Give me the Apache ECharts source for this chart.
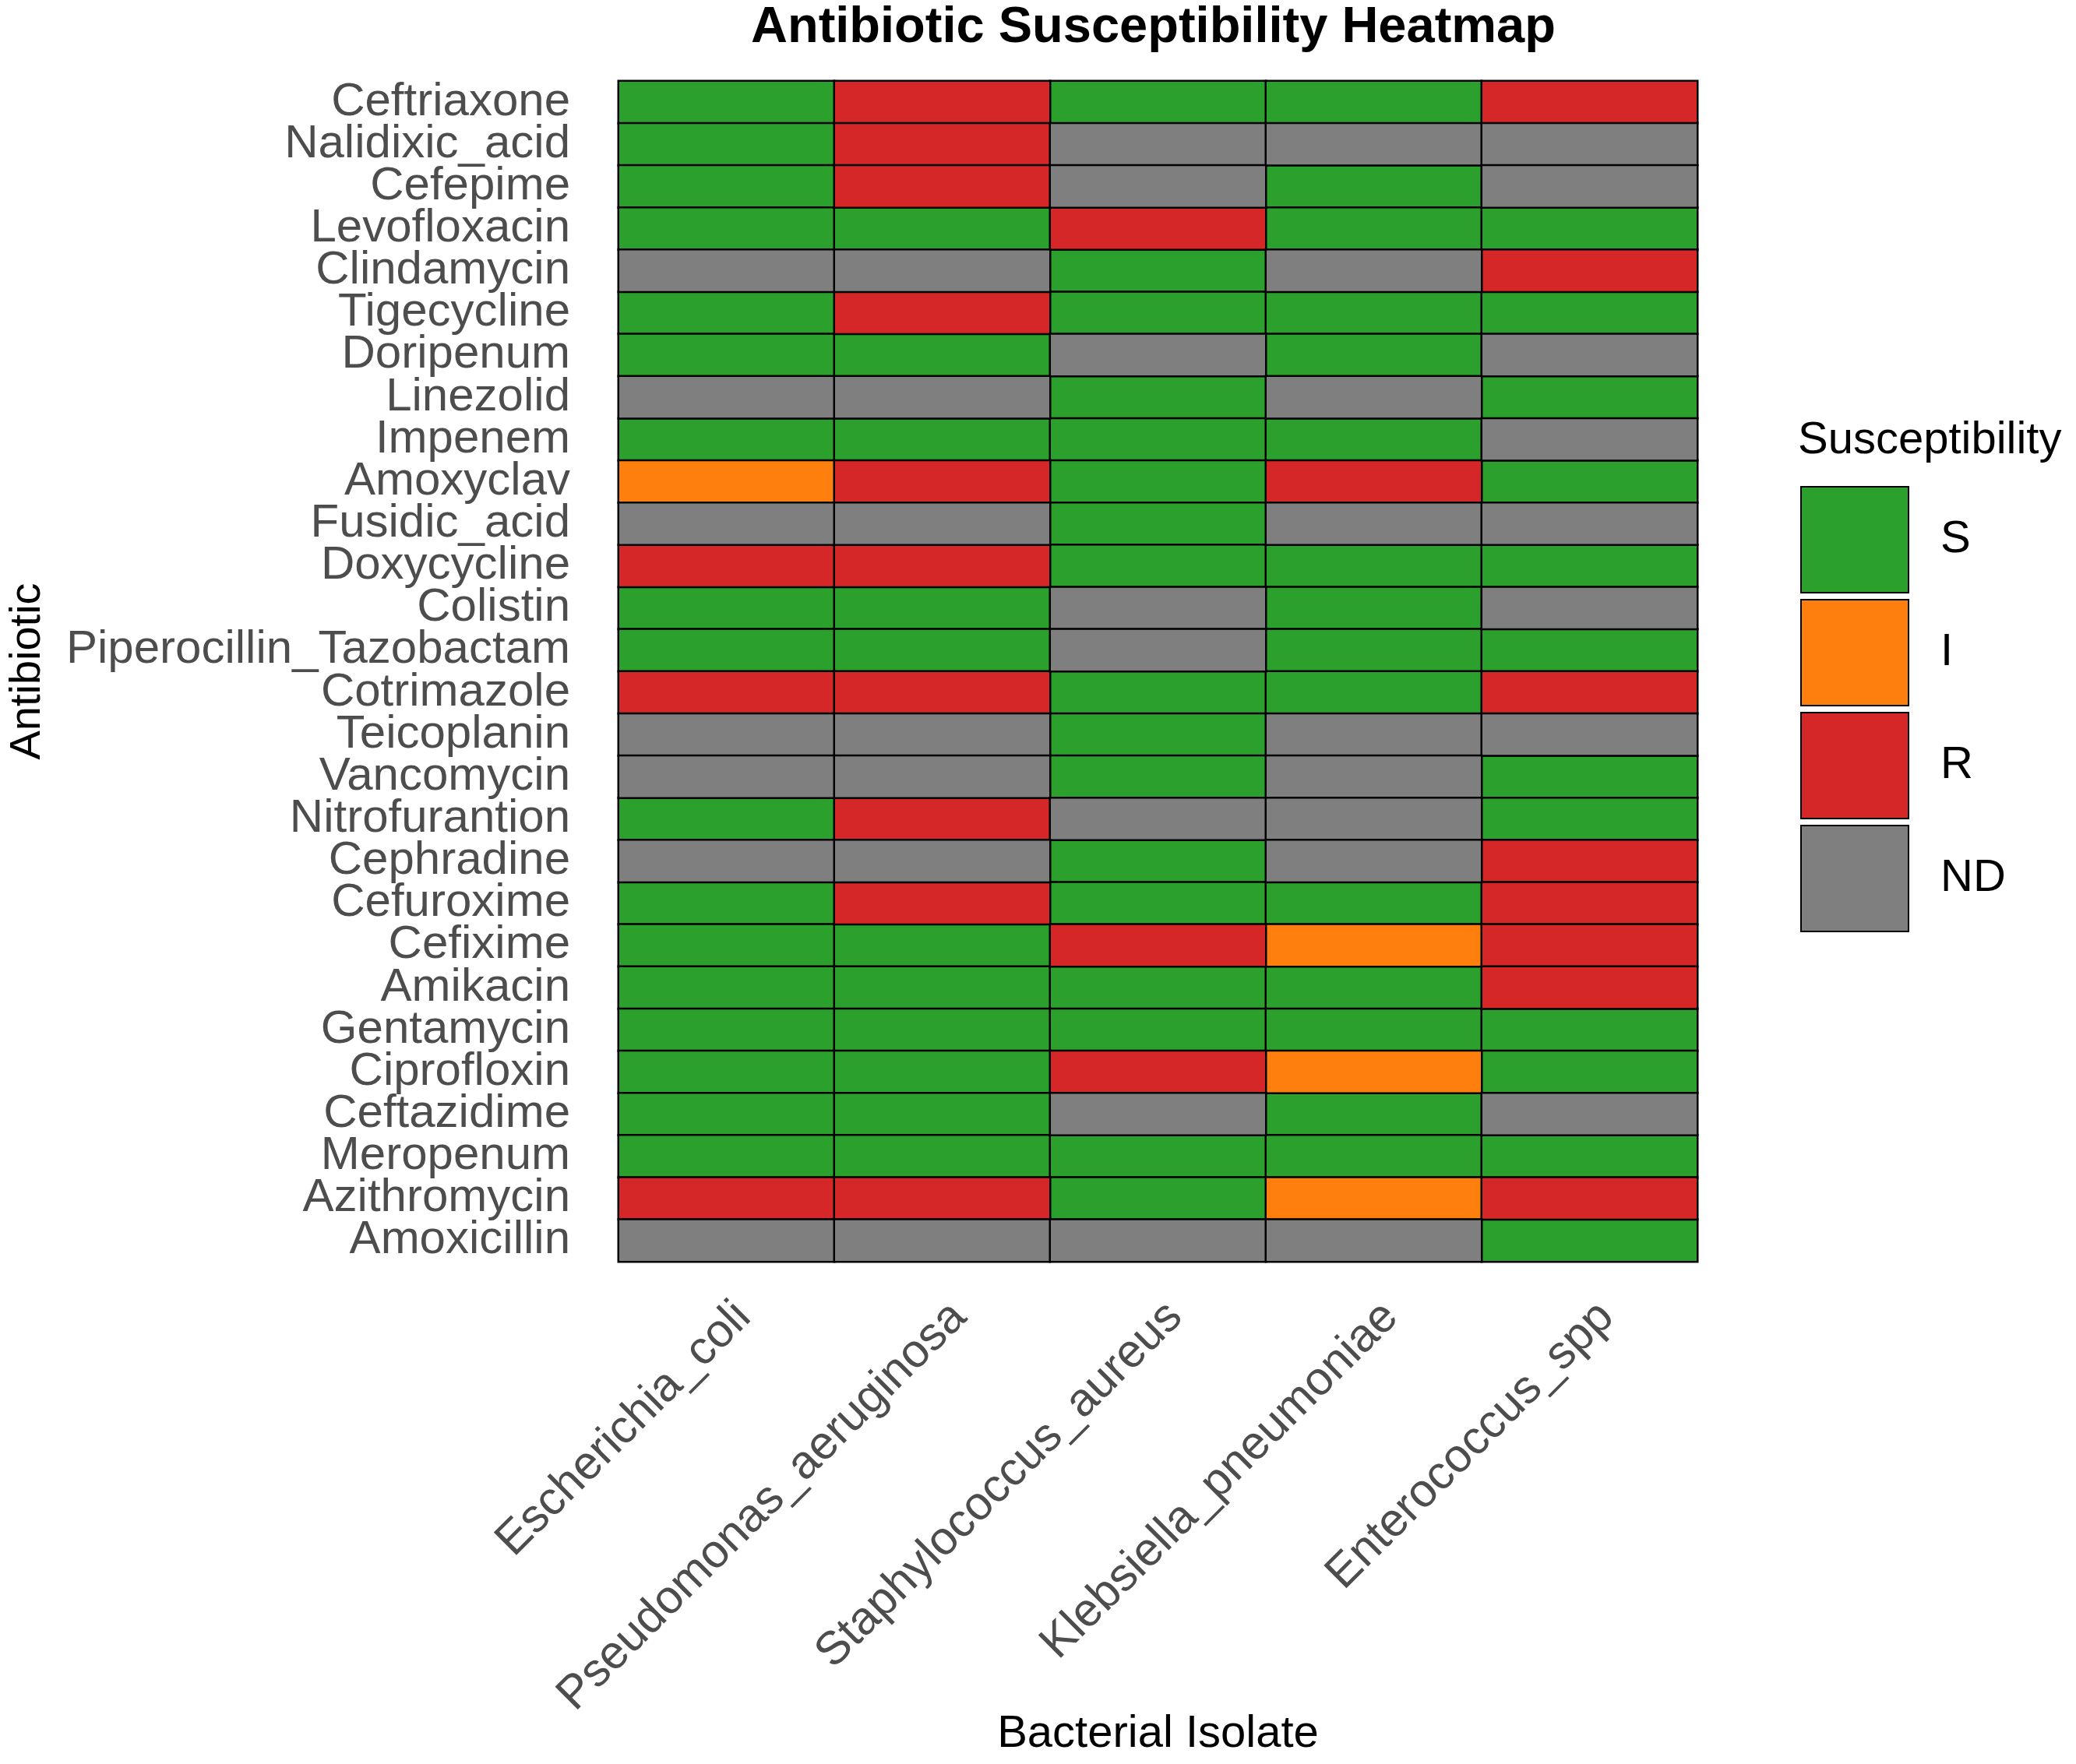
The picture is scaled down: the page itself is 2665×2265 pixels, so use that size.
<!DOCTYPE html>
<html>
<head>
<meta charset="utf-8">
<title>Antibiotic Susceptibility Heatmap</title>
<script src="https://cdn.jsdelivr.net/npm/echarts@6/dist/echarts.min.js"></script>
<style>
	html, body { margin: 0; padding: 0; background: #fff; }
	#main { width: 2665px; height: 2265px; }
</style>
</head>
<body>
<div id="main"></div>
<script>
// bacterial isolates (x axis)
var isolates = ['Escherichia_coli', 'Pseudomonas_aeruginosa', 'Staphylococcus_aureus', 'Klebsiella_pneumoniae', 'Enterococcus_spp'];

// antibiotics, top to bottom
var antibiotics = ['Ceftriaxone', 'Nalidixic_acid', 'Cefepime', 'Levofloxacin', 'Clindamycin', 'Tigecycline',
	'Doripenum', 'Linezolid', 'Impenem', 'Amoxyclav', 'Fusidic_acid', 'Doxycycline', 'Colistin',
	'Piperocillin_Tazobactam', 'Cotrimazole', 'Teicoplanin', 'Vancomycin', 'Nitrofurantion', 'Cephradine',
	'Cefuroxime', 'Cefixime', 'Amikacin', 'Gentamycin', 'Ciprofloxin', 'Ceftazidime', 'Meropenum',
	'Azithromycin', 'Amoxicillin'];

// result per antibiotic, one entry per isolate
var results = [
	['S', 'R', 'S', 'S', 'R'],
	['S', 'R', 'ND', 'ND', 'ND'],
	['S', 'R', 'ND', 'S', 'ND'],
	['S', 'S', 'R', 'S', 'S'],
	['ND', 'ND', 'S', 'ND', 'R'],
	['S', 'R', 'S', 'S', 'S'],
	['S', 'S', 'ND', 'S', 'ND'],
	['ND', 'ND', 'S', 'ND', 'S'],
	['S', 'S', 'S', 'S', 'ND'],
	['I', 'R', 'S', 'R', 'S'],
	['ND', 'ND', 'S', 'ND', 'ND'],
	['R', 'R', 'S', 'S', 'S'],
	['S', 'S', 'ND', 'S', 'ND'],
	['S', 'S', 'ND', 'S', 'S'],
	['R', 'R', 'S', 'S', 'R'],
	['ND', 'ND', 'S', 'ND', 'ND'],
	['ND', 'ND', 'S', 'ND', 'S'],
	['S', 'R', 'ND', 'ND', 'S'],
	['ND', 'ND', 'S', 'ND', 'R'],
	['S', 'R', 'S', 'S', 'R'],
	['S', 'S', 'R', 'I', 'R'],
	['S', 'S', 'S', 'S', 'R'],
	['S', 'S', 'S', 'S', 'S'],
	['S', 'S', 'R', 'I', 'S'],
	['S', 'S', 'ND', 'S', 'ND'],
	['S', 'S', 'S', 'S', 'S'],
	['R', 'R', 'S', 'I', 'R'],
	['ND', 'ND', 'ND', 'ND', 'S']
];

var levels = ['S', 'I', 'R', 'ND'];
var levelColors = ['#2CA02C', '#FF7F0E', '#D62728', '#7F7F7F'];

var chart = echarts.init(document.getElementById('main'));

var series = [];
for (var k = 0; k < levels.length; k++) {
	var data = [];
	for (var i = 0; i < antibiotics.length; i++) {
		for (var j = 0; j < isolates.length; j++) {
			if (results[i][j] == levels[k]) {
				data.push([j, i, 1]);
			}
		}
	}
	series.push({
		name: levels[k],
		type: 'heatmap',
		data: data,
		itemStyle: {
			color: levelColors[k],
			borderColor: '#000',
			borderWidth: 2.5
		},
		emphasis: { disabled: true },
		animation: false
	});
}

var font = '"Liberation Sans", Arial, Helvetica, sans-serif';

var option = {
	backgroundColor: '#fff',
	animation: false,
	textStyle: { fontFamily: font },
	title: [{
		text: 'Antibiotic Susceptibility Heatmap',
		left: 964,
		top: 4,
		padding: 0,
		textStyle: { fontSize: 65, fontWeight: 'bold', color: '#000', fontFamily: font }
	}, {
		text: 'Susceptibility',
		left: 2308,
		top: 537,
		padding: 0,
		textStyle: { fontSize: 58, fontWeight: 'normal', color: '#000', fontFamily: font }
	}],
	legend: {
		data: levels,
		orient: 'vertical',
		left: 2311,
		top: 624,
		padding: 0,
		itemWidth: 138,
		itemHeight: 136,
		itemGap: 7,
		icon: 'rect',
		selectedMode: false,
		textStyle: { fontSize: 58, color: '#000', padding: [0, 0, 0, 36], fontFamily: font }
	},
	grid: {
		left: 794,
		top: 104,
		width: 1385,
		height: 1516,
		containLabel: false,
		outerBoundsMode: 'none'
	},
	xAxis: {
		type: 'category',
		data: isolates,
		name: 'Bacterial Isolate',
		nameLocation: 'middle',
		nameGap: 578,
		nameMoveOverlap: false,
		nameTextStyle: { fontSize: 58, color: '#000', fontFamily: font },
		axisLine: { show: false },
		axisTick: { show: false },
		splitLine: { show: false },
		axisLabel: {
			interval: 0,
			rotate: 45,
			fontSize: 60,
			color: '#4D4D4D',
			margin: 40,
			verticalAlign: 'top',
			lineHeight: 62,
			fontFamily: font
		}
	},
	yAxis: {
		type: 'category',
		data: antibiotics,
		inverse: true,
		name: 'Antibiotic',
		nameLocation: 'middle',
		nameGap: 730,
		nameMoveOverlap: false,
		nameTextStyle: { fontSize: 56, color: '#000', fontFamily: font },
		axisLine: { show: false },
		axisTick: { show: false },
		splitLine: { show: false },
		axisLabel: {
			interval: 0,
			fontSize: 60,
			color: '#4D4D4D',
			margin: 62,
			padding: [8, 0, 0, 0],
			fontFamily: font
		}
	},
	series: series
};

chart.setOption(option);
</script>
</body>
</html>
